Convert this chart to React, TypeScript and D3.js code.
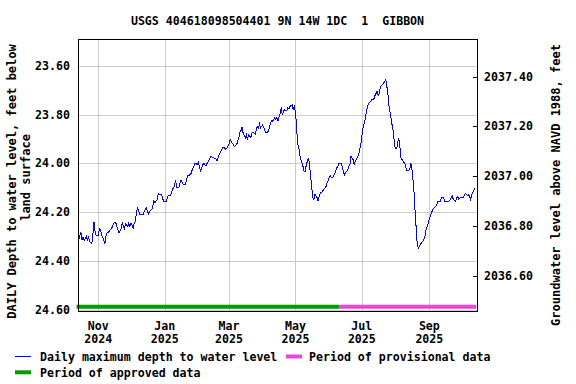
import React from "react";
import * as d3 from "d3";

const TITLE = "USGS 404618098504401 9N 14W 1DC  1  GIBBON";
const LEFT_TITLE_1 = "DAILY Depth to water level, feet below";
const LEFT_TITLE_2 = "land surface";
const RIGHT_TITLE = "Groundwater level above NAVD 1988, feet";

const depthTicks = [23.6, 23.8, 24.0, 24.2, 24.4, 24.6];
const elevTicks = [2036.6, 2036.8, 2037.0, 2037.2, 2037.4];
const monthTicks = ["2024-11-01", "2025-01-01", "2025-03-01", "2025-05-01", "2025-07-01", "2025-09-01"];

const approvedPeriod = ["2024-10-12", "2025-06-10"];
const provisionalPeriod = ["2025-06-10", "2025-10-14"];

const legendLabels = [
  "Daily maximum depth to water level",
  "Period of provisional data",
  "Period of approved data",
];

const dailyMaxDepth: [string, number][] = [
  ["2024-10-14", 24.317], ["2024-10-16", 24.282], ["2024-10-17", 24.316], ["2024-10-18", 24.304],
  ["2024-10-19", 24.316], ["2024-10-21", 24.3], ["2024-10-22", 24.313], ["2024-10-23", 24.304],
  ["2024-10-24", 24.32], ["2024-10-26", 24.33], ["2024-10-27", 24.293], ["2024-10-28", 24.239],
  ["2024-10-29", 24.279], ["2024-10-30", 24.296], ["2024-11-01", 24.296], ["2024-11-02", 24.269],
  ["2024-11-03", 24.272], ["2024-11-04", 24.293], ["2024-11-06", 24.313], ["2024-11-07", 24.33],
  ["2024-11-08", 24.3], ["2024-11-09", 24.286], ["2024-11-11", 24.28], ["2024-11-12", 24.272],
  ["2024-11-13", 24.269], ["2024-11-14", 24.259], ["2024-11-15", 24.245], ["2024-11-17", 24.242],
  ["2024-11-18", 24.261], ["2024-11-19", 24.272], ["2024-11-20", 24.286], ["2024-11-22", 24.267],
  ["2024-11-23", 24.245], ["2024-11-24", 24.259], ["2024-11-25", 24.269], ["2024-11-26", 24.248],
  ["2024-11-28", 24.259], ["2024-11-29", 24.245], ["2024-11-30", 24.261], ["2024-12-01", 24.245],
  ["2024-12-03", 24.265], ["2024-12-04", 24.245], ["2024-12-05", 24.238], ["2024-12-06", 24.204],
  ["2024-12-07", 24.179], ["2024-12-09", 24.211], ["2024-12-10", 24.211], ["2024-12-12", 24.211],
  ["2024-12-14", 24.19], ["2024-12-15", 24.181], ["2024-12-16", 24.197], ["2024-12-17", 24.208],
  ["2024-12-18", 24.197], ["2024-12-20", 24.19], ["2024-12-21", 24.177], ["2024-12-22", 24.156],
  ["2024-12-23", 24.163], ["2024-12-25", 24.149], ["2024-12-26", 24.125], ["2024-12-27", 24.129],
  ["2024-12-29", 24.129], ["2024-12-31", 24.156], ["2025-01-02", 24.159], ["2025-01-03", 24.149],
  ["2025-01-04", 24.133], ["2025-01-06", 24.133], ["2025-01-07", 24.122], ["2025-01-08", 24.108],
  ["2025-01-10", 24.092], ["2025-01-11", 24.07], ["2025-01-12", 24.101], ["2025-01-14", 24.101],
  ["2025-01-15", 24.081], ["2025-01-16", 24.07], ["2025-01-18", 24.088], ["2025-01-20", 24.088],
  ["2025-01-22", 24.051], ["2025-01-23", 24.05], ["2025-01-25", 24.044], ["2025-01-26", 24.03],
  ["2025-01-28", 24.009], ["2025-01-29", 23.999], ["2025-01-31", 24.006], ["2025-02-01", 23.992],
  ["2025-02-02", 24.019], ["2025-02-03", 24.033], ["2025-02-05", 24.006], ["2025-02-06", 23.999],
  ["2025-02-07", 24.006], ["2025-02-08", 24.01], ["2025-02-09", 23.999], ["2025-02-11", 23.985],
  ["2025-02-12", 23.972], ["2025-02-13", 23.974], ["2025-02-14", 23.976], ["2025-02-15", 23.978],
  ["2025-02-17", 23.982], ["2025-02-18", 23.989], ["2025-02-19", 23.978], ["2025-02-20", 23.965],
  ["2025-02-22", 23.948], ["2025-02-23", 23.935], ["2025-02-24", 23.935], ["2025-02-25", 23.937],
  ["2025-02-26", 23.944], ["2025-02-28", 23.931], ["2025-03-01", 23.921], ["2025-03-02", 23.903],
  ["2025-03-03", 23.91], ["2025-03-05", 23.924], ["2025-03-06", 23.931], ["2025-03-08", 23.924],
  ["2025-03-10", 23.896], ["2025-03-11", 23.872], ["2025-03-12", 23.866], ["2025-03-13", 23.851],
  ["2025-03-14", 23.876], ["2025-03-16", 23.896], ["2025-03-17", 23.883], ["2025-03-18", 23.903],
  ["2025-03-19", 23.883], ["2025-03-21", 23.894], ["2025-03-22", 23.876], ["2025-03-23", 23.872],
  ["2025-03-24", 23.876], ["2025-03-25", 23.88], ["2025-03-27", 23.849], ["2025-03-28", 23.855],
  ["2025-03-29", 23.839], ["2025-03-30", 23.855], ["2025-04-01", 23.842], ["2025-04-02", 23.855],
  ["2025-04-03", 23.866], ["2025-04-04", 23.876], ["2025-04-06", 23.869], ["2025-04-07", 23.855],
  ["2025-04-08", 23.835], ["2025-04-09", 23.825], ["2025-04-10", 23.828], ["2025-04-12", 23.814],
  ["2025-04-13", 23.821], ["2025-04-14", 23.812], ["2025-04-15", 23.825], ["2025-04-17", 23.794],
  ["2025-04-18", 23.771], ["2025-04-19", 23.801], ["2025-04-20", 23.787], ["2025-04-21", 23.78],
  ["2025-04-23", 23.784], ["2025-04-24", 23.773], ["2025-04-25", 23.776], ["2025-04-26", 23.767],
  ["2025-04-28", 23.76], ["2025-04-29", 23.78], ["2025-04-30", 23.767], ["2025-05-01", 23.787],
  ["2025-05-02", 23.845], ["2025-05-03", 23.92], ["2025-05-04", 23.933], ["2025-05-05", 23.965],
  ["2025-05-06", 23.985], ["2025-05-08", 24.013], ["2025-05-09", 24.033], ["2025-05-10", 24.033],
  ["2025-05-11", 24.006], ["2025-05-13", 23.978], ["2025-05-14", 24.006], ["2025-05-15", 24.054],
  ["2025-05-16", 24.101], ["2025-05-17", 24.142], ["2025-05-18", 24.149], ["2025-05-19", 24.125],
  ["2025-05-21", 24.142], ["2025-05-22", 24.156], ["2025-05-23", 24.129], ["2025-05-24", 24.122],
  ["2025-05-25", 24.119], ["2025-05-27", 24.108], ["2025-05-28", 24.101], ["2025-05-29", 24.097],
  ["2025-05-30", 24.081], ["2025-06-01", 24.06], ["2025-06-02", 24.051], ["2025-06-03", 24.06],
  ["2025-06-04", 24.06], ["2025-06-05", 24.054], ["2025-06-07", 24.033], ["2025-06-08", 24.019],
  ["2025-06-09", 24.013], ["2025-06-10", 23.999], ["2025-06-12", 23.999], ["2025-06-13", 24.013],
  ["2025-06-14", 24.033], ["2025-06-15", 24.047], ["2025-06-17", 24.033], ["2025-06-18", 24.026],
  ["2025-06-19", 24.013], ["2025-06-20", 24.006], ["2025-06-21", 23.972], ["2025-06-23", 23.985],
  ["2025-06-24", 24.006], ["2025-06-25", 23.992], ["2025-06-26", 23.985], ["2025-06-28", 23.965],
  ["2025-06-29", 23.944], ["2025-06-30", 23.924], ["2025-07-01", 23.89], ["2025-07-02", 23.855],
  ["2025-07-04", 23.821], ["2025-07-05", 23.794], ["2025-07-06", 23.773], ["2025-07-07", 23.757],
  ["2025-07-09", 23.746], ["2025-07-10", 23.739], ["2025-07-11", 23.739], ["2025-07-12", 23.736],
  ["2025-07-13", 23.723], ["2025-07-15", 23.705], ["2025-07-16", 23.723], ["2025-07-17", 23.712],
  ["2025-07-18", 23.685], ["2025-07-20", 23.678], ["2025-07-21", 23.671], ["2025-07-22", 23.664],
  ["2025-07-23", 23.657], ["2025-07-24", 23.685], ["2025-07-25", 23.719], ["2025-07-26", 23.767],
  ["2025-07-28", 23.821], ["2025-07-29", 23.849], ["2025-07-30", 23.869], ["2025-07-31", 23.924],
  ["2025-08-01", 23.941], ["2025-08-02", 23.941], ["2025-08-03", 23.91], ["2025-08-04", 23.9],
  ["2025-08-05", 23.937], ["2025-08-06", 23.978], ["2025-08-07", 23.985], ["2025-08-08", 23.992],
  ["2025-08-10", 24.006], ["2025-08-11", 24.029], ["2025-08-13", 24.029], ["2025-08-14", 24.026],
  ["2025-08-15", 23.999], ["2025-08-16", 24.026], ["2025-08-17", 24.067], ["2025-08-18", 24.122],
  ["2025-08-19", 24.204], ["2025-08-20", 24.272], ["2025-08-21", 24.341], ["2025-08-22", 24.347],
  ["2025-08-23", 24.341], ["2025-08-24", 24.33], ["2025-08-26", 24.32], ["2025-08-27", 24.313],
  ["2025-08-28", 24.3], ["2025-08-29", 24.272], ["2025-08-31", 24.245], ["2025-09-01", 24.228],
  ["2025-09-02", 24.215], ["2025-09-03", 24.204], ["2025-09-04", 24.19], ["2025-09-06", 24.179],
  ["2025-09-07", 24.177], ["2025-09-08", 24.166], ["2025-09-09", 24.156], ["2025-09-11", 24.156],
  ["2025-09-12", 24.142], ["2025-09-13", 24.14], ["2025-09-14", 24.14], ["2025-09-15", 24.156],
  ["2025-09-17", 24.156], ["2025-09-19", 24.156], ["2025-09-21", 24.142], ["2025-09-22", 24.133],
  ["2025-09-23", 24.149], ["2025-09-25", 24.156], ["2025-09-26", 24.142], ["2025-09-27", 24.136],
  ["2025-09-28", 24.149], ["2025-09-29", 24.142], ["2025-10-01", 24.138], ["2025-10-02", 24.14],
  ["2025-10-03", 24.133], ["2025-10-04", 24.122], ["2025-10-06", 24.133], ["2025-10-07", 24.129],
  ["2025-10-08", 24.136], ["2025-10-09", 24.149], ["2025-10-10", 24.129], ["2025-10-12", 24.111],
  ["2025-10-13", 24.101],
];

const FONT = "'DejaVu Sans Mono', 'Liberation Mono', monospace";
const BLUE = "#0000ff";
const GREEN = "#009c00";
const PINK = "#ee44dd";
const GRID = "#cccccc";

export default function App() {
  const parse = d3.timeParse("%Y-%m-%d");
  const left = 78, right = 477.5, top = 39, bottom = 312;

  const x = d3.scaleTime()
    .domain([new Date(2024, 9, 13, 8, 38), new Date(2025, 9, 15, 5, 0)])
    .range([left, right]);
  const y = d3.scaleLinear().domain([23.49, 24.61]).range([top, bottom]);
  const yR = d3.scaleLinear().domain([2037.5515, 2036.4546]).range([top, bottom]);

  const pts = dailyMaxDepth.map(([d, v]) => ({ date: parse(d) as Date, v }));
  const line = d3.line<{ date: Date; v: number }>()
    .x((d) => x(d.date))
    .y((d) => y(d.v));

  const fmtM = d3.timeFormat("%b");
  const fmtY = d3.timeFormat("%Y");
  const barY = 306.8;

  const textStyle = { fontFamily: FONT, fontWeight: 700 as const, fontSize: "11.6px", fill: "#000" };

  return (
    <svg width={576} height={384} style={{ position: "absolute", left: 0, top: 0, background: "#fff" }}>
      <rect x={0} y={0} width={576} height={384} fill="#fff" />
      <text x={277.5} y={24.5} textAnchor="middle" style={textStyle} xmlSpace="preserve">{TITLE}</text>

      {/* grid */}
      <g shapeRendering="crispEdges">
        {depthTicks.map((t) => (
          <line key={"h" + t} x1={left} x2={right} y1={Math.round(y(t)) + 0.5} y2={Math.round(y(t)) + 0.5} stroke={GRID} strokeWidth={1} />
        ))}
        {monthTicks.map((m) => {
          const xx = Math.round(x(parse(m) as Date)) + 0.5;
          return <line key={"v" + m} x1={xx} x2={xx} y1={top} y2={bottom} stroke={GRID} strokeWidth={1} />;
        })}
      </g>

      {/* data period bars */}
      <line x1={x(parse(approvedPeriod[0]) as Date)} x2={x(parse(approvedPeriod[1]) as Date)} y1={barY} y2={barY} stroke={GREEN} strokeWidth={4} />
      <line x1={x(parse(provisionalPeriod[0]) as Date)} x2={x(parse(provisionalPeriod[1]) as Date)} y1={barY} y2={barY} stroke={PINK} strokeWidth={4} />

      {/* series */}
      <path d={line(pts) || ""} fill="none" stroke={BLUE} strokeWidth={1} shapeRendering="crispEdges" />

      {/* frame */}
      <rect x={left + 0.5} y={top + 0.5} width={right - left - 1} height={bottom - top - 1} fill="none" stroke="#000" strokeWidth={1} shapeRendering="crispEdges" />

      {/* right ticks */}
      <g shapeRendering="crispEdges">
        {elevTicks.map((t) => (
          <line key={"rt" + t} x1={right - 5} x2={right} y1={Math.round(yR(t)) + 0.5} y2={Math.round(yR(t)) + 0.5} stroke="#000" />
        ))}
      </g>

      {/* left tick labels */}
      {depthTicks.map((t) => (
        <text key={"lt" + t} x={70} y={y(t) + 4} textAnchor="end" style={textStyle}>{t.toFixed(2)}</text>
      ))}
      {/* right tick labels */}
      {elevTicks.map((t) => (
        <text key={"rl" + t} x={484} y={yR(t) + 4} textAnchor="start" style={textStyle}>{t.toFixed(2)}</text>
      ))}
      {/* x labels */}
      {monthTicks.map((m) => {
        const d = parse(m) as Date;
        return (
          <g key={"xl" + m}>
            <text x={x(d)} y={329.5} textAnchor="middle" style={textStyle}>{fmtM(d)}</text>
            <text x={x(d)} y={343} textAnchor="middle" style={textStyle}>{fmtY(d)}</text>
          </g>
        );
      })}

      {/* axis titles */}
      <text transform="translate(15.5,181.5) rotate(-90)" textAnchor="middle" style={{ ...textStyle, fontSize: "12px" }}>{LEFT_TITLE_1}</text>
      <text transform="translate(29.5,177.5) rotate(-90)" textAnchor="middle" style={{ ...textStyle, fontSize: "12px" }}>{LEFT_TITLE_2}</text>
      <text transform="translate(560,185) rotate(-90)" textAnchor="middle" style={{ ...textStyle, fontSize: "12px" }}>{RIGHT_TITLE}</text>

      {/* legend */}
      <line x1={15} x2={31} y1={356.5} y2={356.5} stroke={BLUE} strokeWidth={1} />
      <text x={40} y={360.7} style={textStyle}>{legendLabels[0]}</text>
      <line x1={286} x2={302} y1={356.5} y2={356.5} stroke={PINK} strokeWidth={4} />
      <text x={309} y={360.7} style={textStyle}>{legendLabels[1]}</text>
      <line x1={15} x2={31} y1={372.3} y2={372.3} stroke={GREEN} strokeWidth={4} />
      <text x={40} y={376.7} style={textStyle}>{legendLabels[2]}</text>
    </svg>
  );
}
